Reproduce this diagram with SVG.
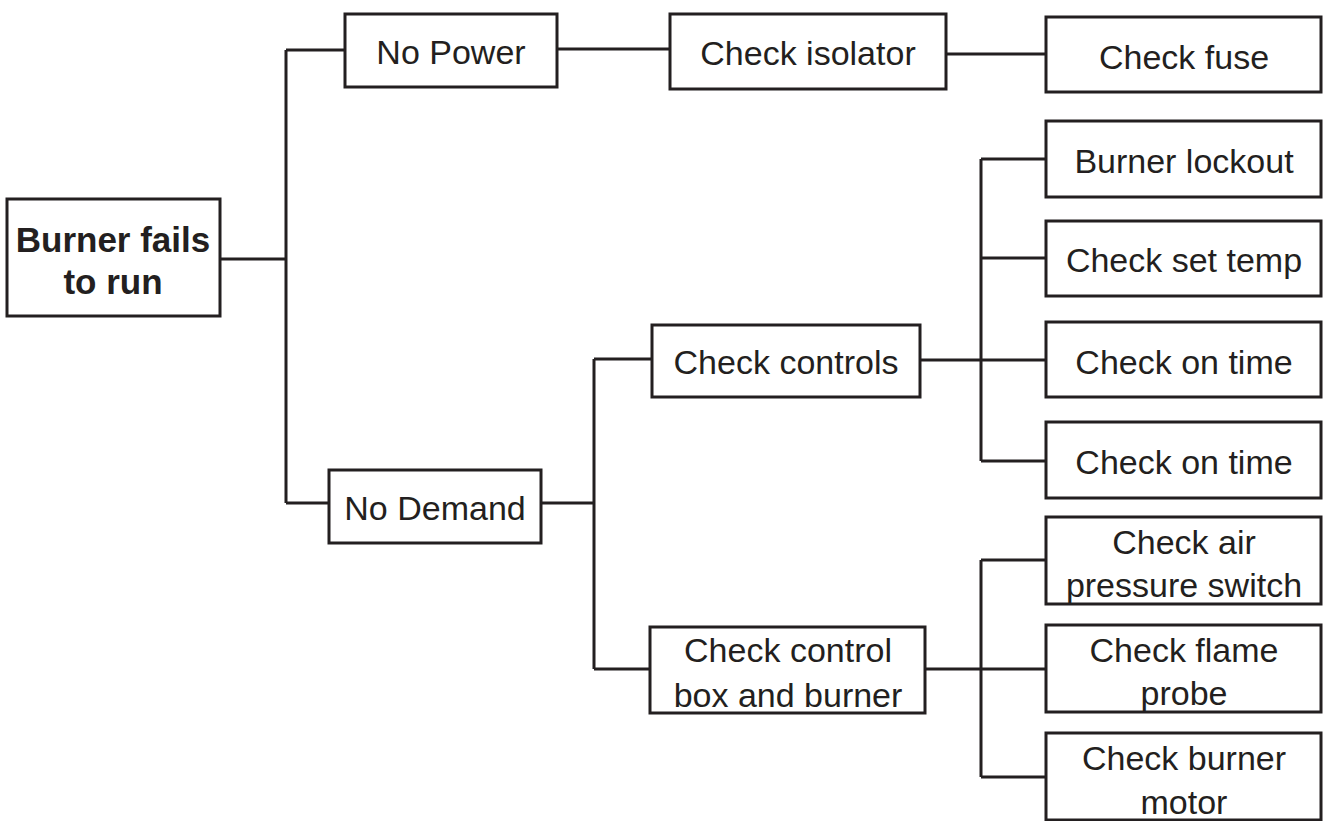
<svg xmlns="http://www.w3.org/2000/svg" width="1323" height="821" viewBox="0 0 1323 821">
<style>
rect.n{fill:#fff;stroke:#231f20;stroke-width:3}
text{font-family:"Liberation Sans",Arial,sans-serif;font-size:34px;fill:#231f20;text-anchor:middle}
text.b{font-weight:bold;font-size:35px}
#connectors path{fill:none;stroke:#231f20;stroke-width:3}
</style>
<rect width="1323" height="821" fill="#fff"/>
<g id="connectors">
<path d="M220 259H286M286 50V503M286 50H345M286 503H329"/>
<path d="M557 49H670"/>
<path d="M946 54H1046"/>
<path d="M541 503H594M594 359V669M594 359H652M594 669H650"/>
<path d="M920 360H1046M981 159V461M981 159H1046M981 258H1046M981 461H1046"/>
<path d="M925 669H1046M981 560V777M981 560H1046M981 777H1046"/>
</g>
<g id="root"><rect class="n" x="7" y="199" width="213" height="117"/><text class="b" x="113" y="252">Burner fails</text><text class="b" x="113" y="294">to run</text></g>
<g id="no-power"><rect class="n" x="345" y="14" width="212" height="73"/><text x="451" y="64">No Power</text></g>
<g id="check-isolator"><rect class="n" x="670" y="14" width="276" height="75"/><text x="808" y="65">Check isolator</text></g>
<g id="check-fuse"><rect class="n" x="1046" y="17" width="275" height="75"/><text x="1184" y="69">Check fuse</text></g>
<g id="burner-lockout"><rect class="n" x="1046" y="121" width="275" height="76"/><text x="1184" y="173">Burner lockout</text></g>
<g id="check-set-temp"><rect class="n" x="1046" y="221" width="275" height="75"/><text x="1184" y="272">Check set temp</text></g>
<g id="check-on-time-1"><rect class="n" x="1046" y="322" width="275" height="75"/><text x="1184" y="374">Check on time</text></g>
<g id="check-on-time-2"><rect class="n" x="1046" y="422" width="275" height="76"/><text x="1184" y="474">Check on time</text></g>
<g id="no-demand"><rect class="n" x="329" y="470" width="212" height="73"/><text x="435" y="520">No Demand</text></g>
<g id="check-controls"><rect class="n" x="652" y="325" width="268" height="72"/><text x="786" y="374">Check controls</text></g>
<g id="check-control-box"><rect class="n" x="650" y="627" width="275" height="86"/><text x="788" y="662">Check control</text><text x="788" y="707">box and burner</text></g>
<g id="check-air"><rect class="n" x="1046" y="517" width="275" height="87"/><text x="1184" y="554">Check air</text><text x="1184" y="597">pressure switch</text></g>
<g id="check-flame"><rect class="n" x="1046" y="625" width="275" height="87"/><text x="1184" y="662">Check flame</text><text x="1184" y="705">probe</text></g>
<g id="check-burner-motor"><rect class="n" x="1046" y="733" width="275" height="87"/><text x="1184" y="770">Check burner</text><text x="1184" y="814">motor</text></g>
</svg>
